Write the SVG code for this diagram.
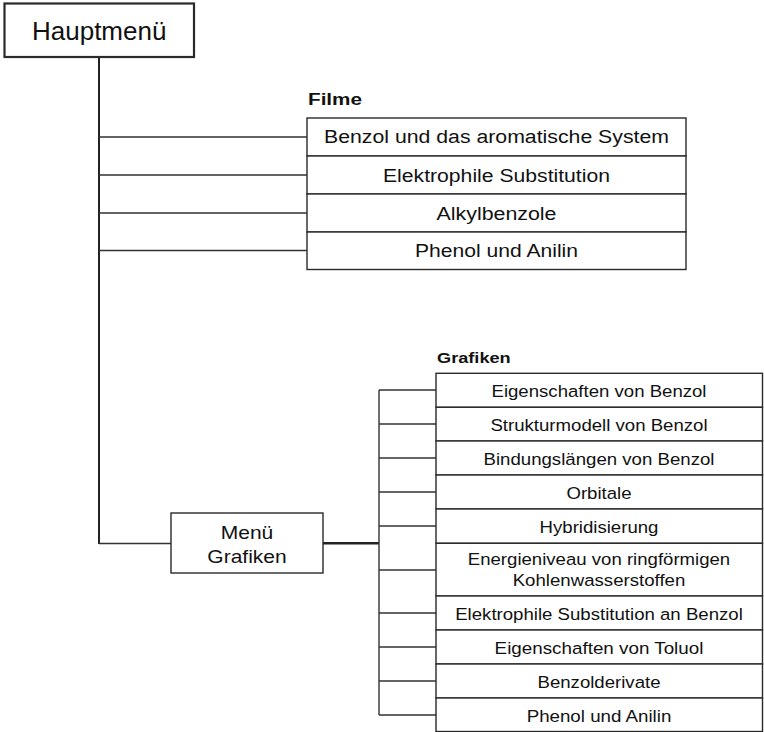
<svg xmlns="http://www.w3.org/2000/svg" width="764" height="732" viewBox="0 0 764 732">
<style>
text{font-family:"Liberation Sans",Arial,sans-serif;fill:#111;text-anchor:middle}
.box{fill:#fff;stroke:#2a2a2a;stroke-width:1.4}
.main{fill:#fff;stroke:#2a2a2a;stroke-width:2.2}
.ln{fill:none;stroke:#333;stroke-width:1.4}
.thick{fill:none;stroke:#222;stroke-width:2.6}
.vert{fill:none;stroke:#222;stroke-width:2}
.f{font-size:17.6px}
.g{font-size:17.2px}
.lbl{font-weight:bold;text-anchor:start}
</style>
<rect width="764" height="732" fill="#fff"/>
<g id="connectors">
<path class="vert" d="M99 57V544"/>
<path class="ln" d="M99 137H307M99 175H307M99 213H307M99 250.5H307M99 543.5H171"/>
<path class="thick" d="M323 543.3H379"/>
<path class="ln" d="M379 390V715M379 390H436M379 424H436M379 458H436M379 492H436M379 526H436M379 570H436M379 613H436M379 647H436M379 681H436M379 715H436"/>
</g>
<g id="hauptmenue">
<rect class="main" x="4.5" y="3.5" width="189.5" height="53.5"/>
<text x="99.2" y="39.5" style="font-size:26px">Hauptmenü</text>
</g>
<g id="filme">
<text class="lbl" x="308" y="105" style="font-size:16.3px" textLength="54" lengthAdjust="spacingAndGlyphs">Filme</text>
<g id="filme-1"><rect class="box" x="307" y="118" width="379" height="38"/><text class="f" x="496.5" y="143.3" textLength="345" lengthAdjust="spacingAndGlyphs">Benzol und das aromatische System</text></g>
<g id="filme-2"><rect class="box" x="307" y="156" width="379" height="38"/><text class="f" x="496.5" y="181.5" textLength="227" lengthAdjust="spacingAndGlyphs">Elektrophile Substitution</text></g>
<g id="filme-3"><rect class="box" x="307" y="194" width="379" height="38"/><text class="f" x="496.5" y="219.5" textLength="120" lengthAdjust="spacingAndGlyphs">Alkylbenzole</text></g>
<g id="filme-4"><rect class="box" x="307" y="232" width="379" height="37.5"/><text class="f" x="496.5" y="257.3" textLength="163" lengthAdjust="spacingAndGlyphs">Phenol und Anilin</text></g>
</g>
<g id="menue-grafiken">
<rect class="box" x="171" y="513" width="152" height="60"/>
<text x="247" y="539" style="font-size:18.6px" textLength="52.5" lengthAdjust="spacingAndGlyphs">Menü</text>
<text x="247" y="563.3" style="font-size:18.6px" textLength="79.3" lengthAdjust="spacingAndGlyphs">Grafiken</text>
</g>
<g id="grafiken">
<text class="lbl" x="437" y="363" style="font-size:15.4px" textLength="73.7" lengthAdjust="spacingAndGlyphs">Grafiken</text>
<g id="g1"><rect class="box" x="436" y="373.3" width="326.5" height="34"/><text class="g" x="599" y="396.7" textLength="215" lengthAdjust="spacingAndGlyphs">Eigenschaften von Benzol</text></g>
<g id="g2"><rect class="box" x="436" y="407.3" width="326.5" height="33.7"/><text class="g" x="599" y="430.6" textLength="217.2" lengthAdjust="spacingAndGlyphs">Strukturmodell von Benzol</text></g>
<g id="g3"><rect class="box" x="436" y="441" width="326.5" height="34"/><text class="g" x="599" y="464.5" textLength="231" lengthAdjust="spacingAndGlyphs">Bindungslängen von Benzol</text></g>
<g id="g4"><rect class="box" x="436" y="475" width="326.5" height="34"/><text class="g" x="599" y="498.5" textLength="65.1" lengthAdjust="spacingAndGlyphs">Orbitale</text></g>
<g id="g5"><rect class="box" x="436" y="509" width="326.5" height="34.3"/><text class="g" x="599" y="532.6" textLength="118.9" lengthAdjust="spacingAndGlyphs">Hybridisierung</text></g>
<g id="g6"><rect class="box" x="436" y="543.3" width="326.5" height="52.7"/><text class="g" x="599" y="565" textLength="262.4" lengthAdjust="spacingAndGlyphs">Energieniveau von ringförmigen</text><text class="g" x="599" y="585.7" textLength="172.6" lengthAdjust="spacingAndGlyphs">Kohlenwasserstoffen</text></g>
<g id="g7"><rect class="box" x="436" y="596" width="326.5" height="34"/><text class="g" x="599" y="619.6" textLength="287.6" lengthAdjust="spacingAndGlyphs">Elektrophile Substitution an Benzol</text></g>
<g id="g8"><rect class="box" x="436" y="630" width="326.5" height="34"/><text class="g" x="599" y="653.6" textLength="208.8" lengthAdjust="spacingAndGlyphs">Eigenschaften von Toluol</text></g>
<g id="g9"><rect class="box" x="436" y="664" width="326.5" height="34"/><text class="g" x="599" y="687.6" textLength="123" lengthAdjust="spacingAndGlyphs">Benzolderivate</text></g>
<g id="g10"><rect class="box" x="436" y="698" width="326.5" height="33.5"/><text class="g" x="599" y="721.7" textLength="144.7" lengthAdjust="spacingAndGlyphs">Phenol und Anilin</text></g>
</g>
</svg>
